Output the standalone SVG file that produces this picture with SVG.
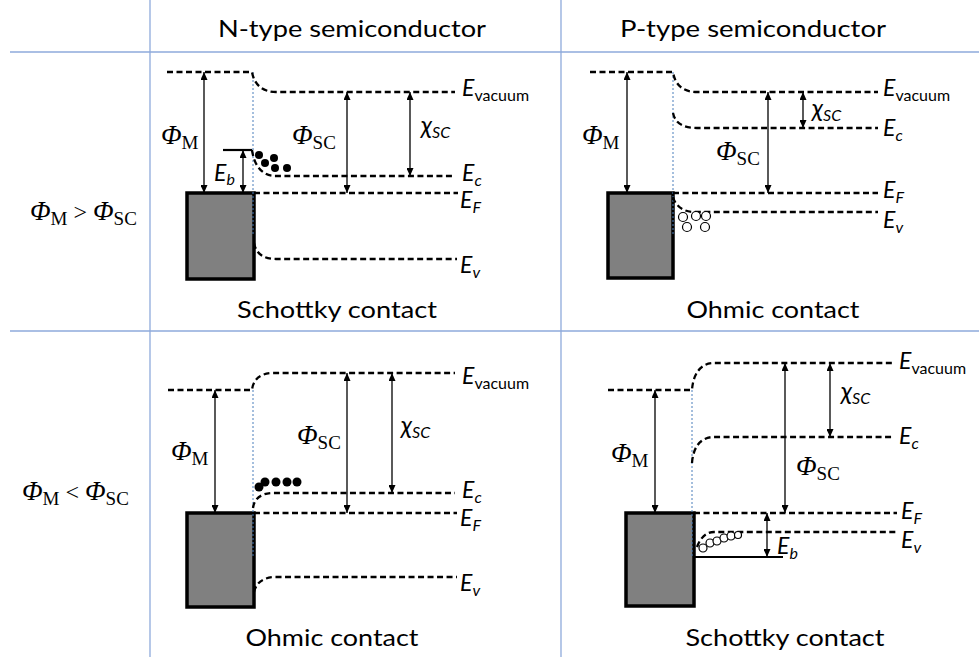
<svg xmlns="http://www.w3.org/2000/svg" width="979" height="657" viewBox="0 0 979 657">
<defs>
<marker id="ah" viewBox="0 0 8 7" refX="8" refY="3.5" markerWidth="8" markerHeight="7" markerUnits="userSpaceOnUse" orient="auto-start-reverse"><path d="M0,0 L8,3.5 L0,7 z" fill="#000"/></marker>
<style>
.grid{stroke:#8eaadb;stroke-width:1.3;fill:none}
.lvl{fill:none;stroke:#000;stroke-width:2.3;stroke-dasharray:6 3.5}
.solid{fill:none;stroke:#000;stroke-width:2.2}
.arr{stroke:#000;stroke-width:1.3;marker-start:url(#ah);marker-end:url(#ah)}
.metal{fill:#808080;stroke:#000;stroke-width:3.5}
.iface{stroke:#4a7ebb;stroke-width:1;stroke-dasharray:2 2}
.el{fill:#000}
.hole{fill:#fff;stroke:#000;stroke-width:1.2}
.E{font-family:Lato,"Open Sans",sans-serif;font-style:italic;font-size:23px;fill:#000}
.sub{font-size:16px}
.up{font-style:normal}
.phi{font-family:"Liberation Serif",serif;font-style:italic;font-size:27px;fill:#000}
.ms{font-style:normal;font-size:19px}
.chi{font-family:Lato,"Open Sans",sans-serif;font-style:italic;font-size:25px;fill:#000}
.cap{font-family:Lato,"Open Sans",sans-serif;font-size:24px;fill:#000;text-anchor:middle}
</style>
</defs>

<g id="table">
<line class="grid" x1="150" y1="0" x2="150" y2="657"/>
<line class="grid" x1="561" y1="0" x2="561" y2="657"/>
<line class="grid" x1="10" y1="52" x2="979" y2="52"/>
<line class="grid" x1="10" y1="331" x2="979" y2="331"/>
<text id="hdr-n" class="cap" x="352" y="37" textLength="268" lengthAdjust="spacingAndGlyphs">N-type semiconductor</text>
<text id="hdr-p" class="cap" x="753" y="37" textLength="266" lengthAdjust="spacingAndGlyphs">P-type semiconductor</text>
<text id="row1" class="phi" x="30" y="220" xml:space="preserve">Φ<tspan class="ms" dy="5">M</tspan><tspan class="up" dy="-5" font-size="24"> &gt; </tspan>Φ<tspan class="ms" dy="5">SC</tspan></text>
<text id="row2" class="phi" x="22" y="500" xml:space="preserve">Φ<tspan class="ms" dy="5">M</tspan><tspan class="up" dy="-5" font-size="24"> &lt; </tspan>Φ<tspan class="ms" dy="5">SC</tspan></text>
</g>

<g id="q1">
<rect class="metal" x="187" y="193" width="67" height="86"/>
<line class="iface" x1="253" y1="72" x2="253" y2="236"/>
<path class="lvl" d="M167,72 H252 C254,84 262,92 276,92 H455"/>
<path class="lvl" d="M252,150 C254,165 262,176 275,176 H455"/>
<path class="lvl" d="M254,193 H458"/>
<path class="lvl" d="M254,243 C256,254 264,259 276,259 H457"/>
<path class="solid" d="M223,150 H252"/>
<circle class="el" cx="259" cy="155" r="4"/><circle class="el" cx="265" cy="163" r="4"/><circle class="el" cx="274" cy="158" r="4"/><circle class="el" cx="275" cy="168" r="4"/><circle class="el" cx="287" cy="168" r="4"/>
<line class="arr" x1="204" y1="72" x2="204" y2="193"/>
<line class="arr" x1="347" y1="92" x2="347" y2="193"/>
<line class="arr" x1="410" y1="92" x2="410" y2="176"/>
<line class="arr" x1="243" y1="150" x2="243" y2="193"/>
<text class="phi" x="161" y="144">Φ<tspan class="ms" dy="5">M</tspan></text>
<text class="phi" x="292" y="144">Φ<tspan class="ms" dy="5">SC</tspan></text>
<text class="chi" x="421" y="134">χ<tspan class="sub" dy="4">SC</tspan></text>
<text class="E" x="214" y="181">E<tspan class="sub" dy="4">b</tspan></text>
<text class="E" x="462" y="96">E<tspan class="sub up" dy="5">vacuum</tspan></text>
<text class="E" x="462" y="181">E<tspan class="sub" dy="5">c</tspan></text>
<text class="E" x="460" y="208">E<tspan class="sub" dy="5">F</tspan></text>
<text class="E" x="460" y="273">E<tspan class="sub" dy="5">v</tspan></text>
<text class="cap" x="337" y="318" textLength="200" lengthAdjust="spacingAndGlyphs">Schottky contact</text>
</g>

<g id="q2">
<rect class="metal" x="608" y="193" width="65" height="85"/>
<line class="iface" x1="673" y1="72" x2="673" y2="236"/>
<path class="lvl" d="M590,72 H673 C675,85 683,92 697,92 H878"/>
<path class="lvl" d="M673,113 C675,123 683,128 697,128 H878"/>
<path class="lvl" d="M673,193 H878"/>
<path class="lvl" d="M673,197 C676,207 684,212 695,212 H878"/>
<circle class="hole" cx="683" cy="217" r="4.5"/><circle class="hole" cx="696" cy="216" r="4.5"/><circle class="hole" cx="706" cy="216" r="4.5"/><circle class="hole" cx="687" cy="227" r="4.5"/><circle class="hole" cx="705" cy="227" r="4.5"/>
<line class="arr" x1="627" y1="72" x2="627" y2="193"/>
<line class="arr" x1="768" y1="92" x2="768" y2="193"/>
<line class="arr" x1="803" y1="92" x2="803" y2="128"/>
<text class="phi" x="582" y="144">Φ<tspan class="ms" dy="5">M</tspan></text>
<text class="phi" x="716" y="160">Φ<tspan class="ms" dy="5">SC</tspan></text>
<text class="chi" x="812" y="117">χ<tspan class="sub" dy="4">SC</tspan></text>
<text class="E" x="883" y="96">E<tspan class="sub up" dy="5">vacuum</tspan></text>
<text class="E" x="883" y="136">E<tspan class="sub" dy="5">c</tspan></text>
<text class="E" x="883" y="198">E<tspan class="sub" dy="5">F</tspan></text>
<text class="E" x="883" y="228">E<tspan class="sub" dy="5">v</tspan></text>
<text class="cap" x="773" y="318" textLength="173" lengthAdjust="spacingAndGlyphs">Ohmic contact</text>
</g>

<g id="q3">
<rect class="metal" x="187" y="513" width="67" height="94"/>
<line class="iface" x1="253" y1="390" x2="253" y2="558"/>
<path class="lvl" d="M168,390 H252 C253,380 260,373 273,373 H455"/>
<path class="lvl" d="M253,508 C254,499 261,493 273,493 H455"/>
<path class="lvl" d="M254,513 H457"/>
<path class="lvl" d="M254,592 C256,583 263,577 276,577 H457"/>
<circle class="el" cx="259" cy="487" r="4.5"/><circle class="el" cx="265" cy="482" r="4.5"/><circle class="el" cx="276" cy="482" r="4.5"/><circle class="el" cx="287" cy="482" r="4.5"/><circle class="el" cx="297" cy="482" r="4.5"/>
<line class="arr" x1="215" y1="390" x2="215" y2="513"/>
<line class="arr" x1="347" y1="373" x2="347" y2="513"/>
<line class="arr" x1="392" y1="373" x2="392" y2="493"/>
<text class="phi" x="171" y="460">Φ<tspan class="ms" dy="5">M</tspan></text>
<text class="phi" x="297" y="444">Φ<tspan class="ms" dy="5">SC</tspan></text>
<text class="chi" x="401" y="434">χ<tspan class="sub" dy="4">SC</tspan></text>
<text class="E" x="462" y="384">E<tspan class="sub up" dy="5">vacuum</tspan></text>
<text class="E" x="462" y="498">E<tspan class="sub" dy="5">c</tspan></text>
<text class="E" x="460" y="526">E<tspan class="sub" dy="5">F</tspan></text>
<text class="E" x="460" y="591">E<tspan class="sub" dy="5">v</tspan></text>
<text class="cap" x="332" y="646" textLength="173" lengthAdjust="spacingAndGlyphs">Ohmic contact</text>
</g>

<g id="q4">
<rect class="metal" x="626" y="513" width="68" height="93"/>
<line class="iface" x1="692" y1="390" x2="692" y2="557"/>
<path class="lvl" d="M608,390 H692 C693,375 700,363 714,363 H893"/>
<path class="lvl" d="M692,463 C693,448 700,437 714,437 H893"/>
<path class="lvl" d="M694,513 H897"/>
<path class="lvl" d="M697,547 C700,539 705,532 714,532 H897"/>
<path class="solid" d="M693,557 H783"/>
<circle class="hole" cx="703" cy="548" r="4"/><circle class="hole" cx="710" cy="543" r="4"/><circle class="hole" cx="717" cy="541" r="4"/><circle class="hole" cx="724" cy="538" r="4"/><circle class="hole" cx="731" cy="536" r="4"/><circle class="hole" cx="738" cy="535" r="3.5"/>
<line class="arr" x1="655" y1="390" x2="655" y2="513"/>
<line class="arr" x1="785" y1="363" x2="785" y2="513"/>
<line class="arr" x1="830" y1="363" x2="830" y2="437"/>
<line class="arr" x1="767" y1="513" x2="767" y2="557"/>
<text class="phi" x="611" y="462">Φ<tspan class="ms" dy="5">M</tspan></text>
<text class="phi" x="796" y="475">Φ<tspan class="ms" dy="5">SC</tspan></text>
<text class="chi" x="841" y="400">χ<tspan class="sub" dy="4">SC</tspan></text>
<text class="E" x="777" y="554">E<tspan class="sub" dy="5">b</tspan></text>
<text class="E" x="899" y="369">E<tspan class="sub up" dy="5">vacuum</tspan></text>
<text class="E" x="899" y="444">E<tspan class="sub" dy="5">c</tspan></text>
<text class="E" x="901" y="519">E<tspan class="sub" dy="5">F</tspan></text>
<text class="E" x="901" y="548">E<tspan class="sub" dy="5">v</tspan></text>
<text class="cap" x="785" y="646" textLength="199" lengthAdjust="spacingAndGlyphs">Schottky contact</text>
</g>
</svg>
